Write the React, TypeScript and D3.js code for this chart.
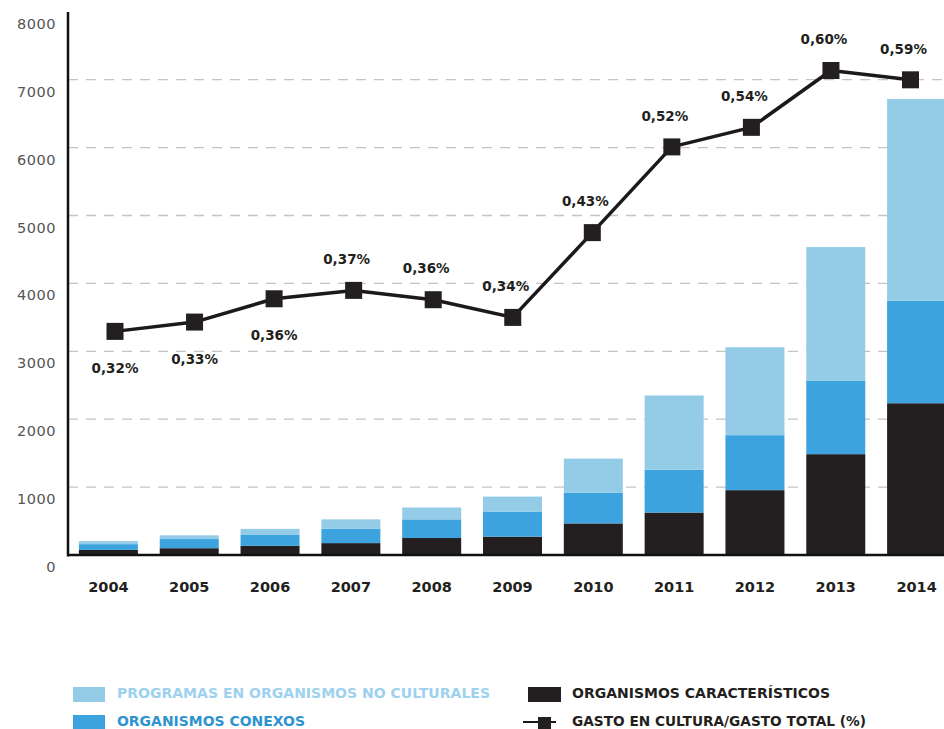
import React from "react";
import * as d3 from "d3";

const years = ["2004", "2005", "2006", "2007", "2008", "2009", "2010", "2011", "2012", "2013", "2014"];
const caracteristicos = [75, 100, 135, 175, 250, 270, 465, 625, 955, 1485, 2235];
const conexos = [85, 135, 160, 210, 275, 370, 450, 630, 810, 1085, 1510];
const noCulturales = [45, 55, 90, 140, 175, 220, 505, 1095, 1295, 1965, 2970];
const gastoPct = [0.32, 0.33, 0.355, 0.364, 0.354, 0.335, 0.426, 0.518, 0.539, 0.6, 0.59];
const gastoLabels = ["0,32%", "0,33%", "0,36%", "0,37%", "0,36%", "0,34%", "0,43%", "0,52%", "0,54%", "0,60%", "0,59%"];
const labelSide = ["below", "below", "below", "above", "above", "above", "above", "above", "above", "above", "above"];
const yTicks = [0, 1000, 2000, 3000, 4000, 5000, 6000, 7000, 8000];
const seriesKeys = ["caracteristicos", "conexos", "noCulturales"];
const seriesColors = ["#231f20", "#3ca3de", "#94cce8"];
const legendNames = [
  "PROGRAMAS EN ORGANISMOS NO CULTURALES",
  "ORGANISMOS CONEXOS",
  "ORGANISMOS CARACTERÍSTICOS",
  "GASTO EN CULTURA/GASTO TOTAL (%)",
];

const W = 944;
const H = 729;
const AXIS_X = 68;
const BASE_Y = 555;

export default function App() {
  const x = d3.scaleBand<string>().domain(years).range([68, 957]).paddingInner(0.27).paddingOuter(0.135);
  const y = d3.scaleLinear().domain([0, 8000]).range([BASE_Y, BASE_Y - 8000 * 0.0679]);
  const xLine = d3.scalePoint<string>().domain(years).range([115, 910.5]);
  const yPct = d3.scaleLinear().domain([0.08, 0.6]).range([BASE_Y, 70.5]);

  const table = years.map((yr, i) => ({
    year: yr,
    caracteristicos: caracteristicos[i],
    conexos: conexos[i],
    noCulturales: noCulturales[i],
  }));
  const stacked = d3.stack<any>().keys(seriesKeys)(table);

  const line = d3
    .line<number>()
    .x((_, i) => xLine(years[i]) as number)
    .y((d) => yPct(d));

  const bold = "'DejaVu Sans', sans-serif";
  const marker = 17;

  return (
    <svg width={W} height={H} style={{ position: "absolute", left: 0, top: 0, background: "#fff" }}>
      {yTicks.slice(1, 8).map((t) => (
        <line
          key={"g" + t}
          x1={AXIS_X}
          x2={W}
          y1={y(t)}
          y2={y(t)}
          stroke="#c4c4c4"
          strokeWidth={1.3}
          strokeDasharray="10 8"
        />
      ))}
      {yTicks.map((t) => (
        <text
          key={"t" + t}
          x={56}
          y={y(t) + 12}
          dy="0.35em"
          textAnchor="end"
          fontFamily="'DejaVu Sans', sans-serif"
          fontSize={14.5}
          fill="#555"
          letterSpacing={0.5}
        >
          {t}
        </text>
      ))}
      {stacked.map((s, si) => (
        <g key={s.key} fill={seriesColors[si]}>
          {s.map((d, i) => (
            <rect
              key={years[i]}
              x={x(years[i])}
              y={y(d[1])}
              width={x.bandwidth()}
              height={y(d[0]) - y(d[1])}
            />
          ))}
        </g>
      ))}
      <line x1={AXIS_X} x2={AXIS_X} y1={12} y2={BASE_Y + 1.5} stroke="#111" strokeWidth={2.5} />
      <line x1={AXIS_X} x2={W} y1={BASE_Y} y2={BASE_Y} stroke="#111" strokeWidth={2.5} />
      {years.map((yr) => (
        <text
          key={"x" + yr}
          x={(x(yr) as number) + x.bandwidth() / 2}
          y={587}
          dy="0.35em"
          textAnchor="middle"
          fontFamily={bold}
          fontWeight="bold"
          fontSize={14.5}
          fill="#231f20"
        >
          {yr}
        </text>
      ))}
      <path d={line(gastoPct) || ""} fill="none" stroke="#1a1a1a" strokeWidth={3.5} strokeLinejoin="round" />
      {gastoPct.map((v, i) => (
        <rect
          key={"m" + i}
          x={(xLine(years[i]) as number) - marker / 2}
          y={yPct(v) - marker / 2}
          width={marker}
          height={marker}
          fill="#231f20"
        />
      ))}
      {gastoPct.map((v, i) => {
        const above = labelSide[i] === "above";
        return (
          <text
            key={"l" + i}
            x={(xLine(years[i]) as number) + (above ? -7 : 0)}
            y={yPct(v) + (above ? -31 : 37)}
            dy="0.35em"
            textAnchor="middle"
            fontFamily={bold}
            fontWeight="bold"
            fontSize={13.5}
            fill="#231f20"
          >
            {gastoLabels[i]}
          </text>
        );
      })}
      <rect x={73} y={687} width={32} height={15} fill={seriesColors[2]} />
      <text x={117} y={698} fontFamily={bold} fontWeight="bold" fontSize={13.5} fill="#9dd1ee" textLength={373} lengthAdjust="spacingAndGlyphs">
        {legendNames[0]}
      </text>
      <rect x={73} y={715} width={32} height={15} fill={seriesColors[1]} />
      <text x={117} y={726} fontFamily={bold} fontWeight="bold" fontSize={13.5} fill="#2f93d0" textLength={188} lengthAdjust="spacingAndGlyphs">
        {legendNames[1]}
      </text>
      <rect x={528} y={687} width={33} height={15} fill={seriesColors[0]} />
      <text x={572} y={698} fontFamily={bold} fontWeight="bold" fontSize={13.5} fill="#231f20" textLength={258} lengthAdjust="spacingAndGlyphs">
        {legendNames[2]}
      </text>
      <line x1={523} x2={556} y1={722} y2={722} stroke="#1a1a1a" strokeWidth={2} />
      <rect x={538} y={717} width={13} height={13} fill="#231f20" />
      <text x={572} y={726} fontFamily={bold} fontWeight="bold" fontSize={13.5} fill="#231f20" textLength={294} lengthAdjust="spacingAndGlyphs">
        {legendNames[3]}
      </text>
    </svg>
  );
}
